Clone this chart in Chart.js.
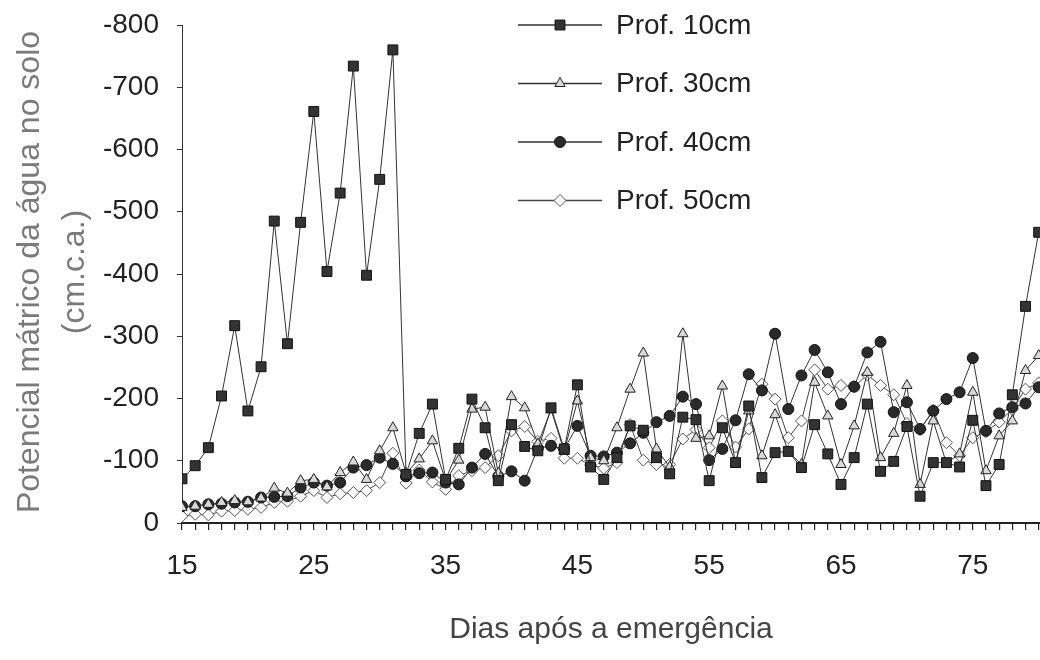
<!DOCTYPE html>
<html>
<head>
<meta charset="utf-8">
<script src="https://cdn.jsdelivr.net/npm/chart.js@4"></script>
<style>
html,body{margin:0;padding:0;background:#fff;overflow:hidden}
#wrap{width:1040px;height:660px;position:relative}
</style>
</head>
<body>
<div id="wrap"><canvas id="soloCanvas"></canvas></div>
<script>
// dias após a emergência
const days = [15,16,17,18,19,20,21,22,23,24,25,26,27,28,29,30,31,32,33,34,35,36,37,38,39,40,
  41,42,43,44,45,46,47,48,49,50,51,52,53,54,55,56,57,58,59,60,61,62,63,64,65,66,67,68,69,70,
  71,72,73,74,75,76,77,78,79,80];

// potencial (cm.c.a.)
const prof10 = [-71,-92,-121,-204,-317,-180,-251,-485,-288,-483,-661,-404,-530,-734,-398,-552,-760,-78,
  -144,-191,-70,-120,-199,-153,-68,-158,-123,-116,-185,-119,-222,-90,-70,-105,-156,-149,-105,-79,
  -170,-166,-68,-153,-97,-188,-73,-113,-115,-89,-158,-111,-62,-105,-191,-83,-99,-155,-43,-97,-97,
  -90,-165,-60,-94,-206,-348,-467];
const prof30 = [-25,-27,-30,-33,-36,-34,-40,-56,-48,-68,-70,-58,-81,-98,-70,-116,-153,-80,
  -103,-132,-68,-101,-183,-186,-80,-203,-185,-127,-182,-115,-196,-105,-100,-153,-215,-273,-119,-90,
  -304,-136,-140,-220,-95,-180,-108,-174,-115,-94,-226,-172,-94,-156,-242,-105,-144,-221,-62,-164,-96,
  -111,-210,-84,-140,-164,-245,-269];
const prof40 = [-27,-27,-30,-31,-33,-34,-41,-42,-43,-57,-65,-60,-65,-89,-93,-105,-95,-75,
  -80,-81,-65,-62,-89,-111,-75,-83,-68,-120,-124,-119,-156,-108,-107,-113,-128,-145,-162,-172,
  -203,-191,-101,-119,-165,-239,-213,-304,-183,-237,-278,-242,-191,-219,-274,-291,-178,-194,-151,-180,-199,
  -210,-265,-148,-176,-186,-192,-218];
const prof50 = [-11,-14,-13,-19,-20,-22,-25,-33,-35,-43,-52,-41,-47,-49,-52,-65,-112,-64,
  -85,-66,-54,-76,-84,-89,-108,-148,-155,-131,-136,-104,-104,-93,-88,-97,-158,-101,-94,-94,
  -135,-150,-121,-164,-122,-151,-223,-199,-137,-164,-246,-215,-221,-219,-238,-221,-206,-160,-150,-181,-129,
  -108,-137,-147,-162,-183,-215,-225];

const xTickLabels = [15,25,35,45,55,65,75];
const legendNames = ['Prof. 10cm','Prof. 30cm','Prof. 40cm','Prof. 50cm'];
const yTitle = ['Potencial mátrico da água no solo', '(cm.c.a.)'];

const fonte = '"Liberation Sans", Arial, Helvetica, sans-serif';

function pontos(serie){
  return days.map((d,i)=>({x:d, y:serie[i]}));
}

// legenda com linha + marcador, e titulo do eixo y em duas linhas
const legendeProf = {
  id: 'legendeProf',
  afterDatasetsDraw(chart){
    const ctx = chart.ctx;
    ctx.save();
    chart.data.datasets.forEach((ds,i)=>{
      const y = 25 + i*58.5;
      ctx.strokeStyle = ds.borderColor;
      ctx.lineWidth = 1.3;
      ctx.beginPath();
      ctx.moveTo(518,y);
      ctx.lineTo(602,y);
      ctx.stroke();
      ctx.fillStyle = ds.pointBackgroundColor;
      ctx.strokeStyle = ds.pointBorderColor;
      ctx.lineWidth = 1;
      Chart.helpers.drawPoint(ctx,{pointStyle:ds.pointStyle, radius:ds.pointRadius, rotation:0, borderWidth:1},560,y);
      ctx.fillStyle = '#222';
      ctx.font = '28px ' + fonte;
      ctx.textBaseline = 'middle';
      ctx.textAlign = 'left';
      ctx.fillText(ds.label,616,y+1);
    });

    ctx.fillStyle = '#7a7a7a';
    ctx.font = '32px ' + fonte;
    ctx.textAlign = 'center';
    ctx.textBaseline = 'middle';
    ctx.translate(30, 272);
    ctx.rotate(-Math.PI/2);
    ctx.fillText(yTitle[0], 0, 0);
    ctx.fillText(yTitle[1], 0, 45);
    ctx.restore();
  }
};

const soloChart = new Chart(document.getElementById('soloCanvas'), {
  type: 'line',
  data: {
    datasets: [{
      label: legendNames[0],
      data: pontos(prof10),
      borderColor: '#333',
      borderWidth: 1,
      pointStyle: 'rect',
      pointRadius: 7,
      pointBackgroundColor: '#333',
      pointBorderColor: '#111',
      pointBorderWidth: 1
    },{
      label: legendNames[1],
      data: pontos(prof30),
      borderColor: '#333',
      borderWidth: 1,
      pointStyle: 'triangle',
      pointRadius: 6,
      pointBackgroundColor: '#d8d8d8',
      pointBorderColor: '#222',
      pointBorderWidth: 1
    },{
      label: legendNames[2],
      data: pontos(prof40),
      borderColor: '#333',
      borderWidth: 1,
      pointStyle: 'circle',
      pointRadius: 5.5,
      pointBackgroundColor: '#2a2a2a',
      pointBorderColor: '#111',
      pointBorderWidth: 1
    },{
      label: legendNames[3],
      data: pontos(prof50),
      borderColor: '#444',
      borderWidth: 1,
      pointStyle: 'rectRot',
      pointRadius: 6,
      pointBackgroundColor: '#fafafa',
      pointBorderColor: '#555',
      pointBorderWidth: 1
    }]
  },
  options: {
    responsive: true,
    maintainAspectRatio: false,
    animation: false,
    layout: { autoPadding: false, padding: { top: 25, right: 0, bottom: 0, left: 0 } },
    elements: { line: { tension: 0 } },
    plugins: {
      legend: { display: false },
      tooltip: { enabled: false }
    },
    scales: {
      x: {
        type: 'linear',
        min: 15,
        max: 80.1,
        afterFit: s => { s.height = 137; s.paddingLeft = 0; s.paddingRight = 0; },
        border: { color: '#222', width: 2 },
        grid: { drawOnChartArea: false, tickLength: 7, color: '#222', lineWidth: 1.2 },
        ticks: {
          stepSize: 1,
          autoSkip: false,
          maxRotation: 0,
          includeBounds: false,
          padding: 19,
          color: '#222',
          font: { family: fonte, size: 28 },
          callback: v => xTickLabels.includes(v) ? String(v) : ''
        },
        title: {
          display: true,
          text: 'Dias após a emergência',
          color: '#444',
          font: { family: fonte, size: 30 },
          padding: { top: 0, bottom: 12 }
        }
      },
      y: {
        reverse: true,
        min: -800,
        max: 0,
        afterFit: s => { s.width = 182; s.paddingTop = 0; s.paddingBottom = 0; },
        border: { color: '#333', width: 1 },
        grid: { drawOnChartArea: false, tickLength: 5, color: '#333' },
        ticks: {
          stepSize: 100,
          padding: 18,
          color: '#222',
          font: { family: fonte, size: 28 }
        },
        title: { display: false }
      }
    }
  },
  plugins: [legendeProf]
});
</script>
</body>
</html>
